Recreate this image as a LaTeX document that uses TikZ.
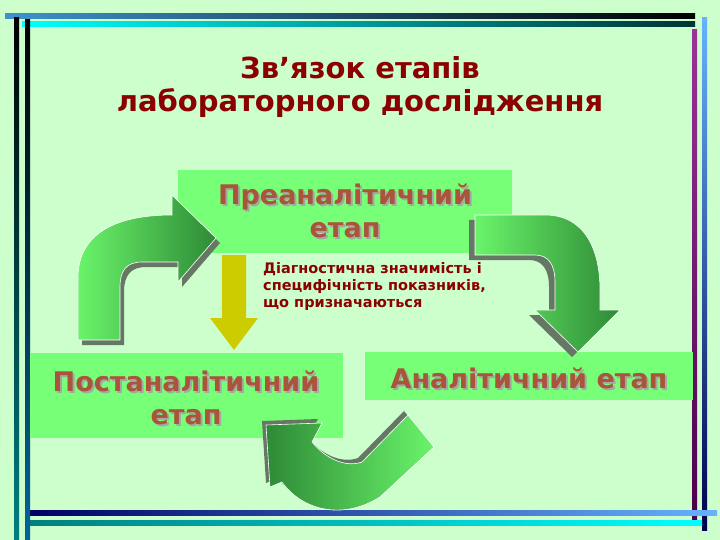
\documentclass[tikz,border=0pt]{standalone}
\usepackage{fontspec}
\setmainfont{DejaVu Sans}
\begin{document}
\begin{tikzpicture}[x=1pt,y=-1pt,
  box/.style={fill=boxg,draw=none,inner sep=0pt},
  btxt/.style={font=\bfseries\fontsize{27}{33}\selectfont,text=btc,align=center},
  bshd/.style={font=\bfseries\fontsize{27}{33}\selectfont,text=gray!70,align=center},
  ttl/.style={font=\bfseries\fontsize{29}{33}\selectfont,text=ttc,align=center},
  note/.style={font=\bfseries\fontsize{14.5}{17}\selectfont,text=ttc,align=left,anchor=north west,inner sep=0pt},
  shd/.style={fill=shgray},
  arr/.style={draw=white,line width=0.6pt}]
\definecolor{bg}{HTML}{CCFFCC}
\definecolor{boxg}{HTML}{77FF77}
\definecolor{btc}{HTML}{A8553A}
\definecolor{ttc}{HTML}{8B0000}
\definecolor{shgray}{HTML}{667766}
\definecolor{lg}{HTML}{6AF46A}
\definecolor{dg}{HTML}{2E8A36}
\definecolor{yel}{HTML}{CCCC00}
\fill[bg] (0,0) rectangle (720,540);
\useasboundingbox (0,0) rectangle (720,540);
% border lines
\shade[left color=blue!40!cyan!70!white!80!black, right color=black] (5,14) rectangle (695,19);
\shade[left color=cyan, right color=black!80!cyan] (22,22) rectangle (695,27);
\shade[top color=black, bottom color=teal] (14,18) rectangle (19,540);
\shade[top color=black, bottom color=teal!80!blue] (25,20) rectangle (30,540);
\shade[top color=violet!80!white, bottom color=violet!60!black] (692,30) rectangle (697,520);
\shade[top color=blue!50!cyan!60!white, bottom color=blue!30!black] (702,18) rectangle (707,530);
\shade[left color=blue!40!black, right color=blue!50!cyan!60!white] (30,510) rectangle (717,515);
\shade[left color=teal, right color=cyan] (30,520) rectangle (702,525);
% title
\node[ttl] (t1) at (360,68) {Зв’язок етапів};
\node[ttl] (t2) at (360,103) {лабораторного дослідження};
% boxes
\path[box] (178,170) rectangle (512,253);
\path[box] (30,353) rectangle (343,438);
\path[box] (365,352) rectangle (693,400);
\node[bshd] at (347,213) {Преаналітичний\\етап};
\node[btxt] (pre) at (345,211) {Преаналітичний\\етап};
\node[bshd] at (188,400) {Постаналітичний\\етап};
\node[btxt] (post) at (186,398) {Постаналітичний\\етап};
\node[bshd] at (531,380) {Аналітичний етап};
\node[btxt] (ana) at (529,378) {Аналітичний етап};
% yellow arrow
\fill[yel] (222,255) -- (246,255) -- (246,318) -- (258,318) -- (234,350) -- (210,318) -- (222,318) -- cycle;
\node[note] (n) at (263,262) {Діагностична значимість і\\специфічність показників,\\що призначаються};
% left curved arrow
\def\larr{(78,340) -- (78,278) .. controls (78,232) and (118,215) .. (172,215) -- (172,195) -- (216,238) -- (178,282) -- (178,262) -- (142,262) .. controls (127,262) and (120,270) .. (120,287) -- (120,340) -- cycle}
\fill[shd,shift={(4,5)}] \larr;
\shade[left color=lg,right color=dg,arr] \larr;
% right curved arrow
\def\rarr{(475,215) -- (545,215) .. controls (585,215) and (600,250) .. (600,290) -- (600,310) -- (620,310) -- (578,352) -- (535,310) -- (555,310) -- (555,282) .. controls (555,264) and (548,255) .. (535,255) -- (475,255) -- cycle}
\fill[shd,shift={(-6,5)}] \rarr;
\shade[left color=lg,right color=dg,arr] \rarr;
% bottom curved arrow
\def\barr{(434,447) -- (380,497) .. controls (340,522) and (300,508) .. (282,482) -- (270,487) -- (266,425) -- (322,423) -- (312,442) .. controls (325,458) and (345,468) .. (362,462) -- (408,415) -- cycle}
\fill[shd,shift={(-4,-4)}] \barr;
\shade[left color=dg,right color=lg,arr] \barr;
\end{tikzpicture}
\end{document}
